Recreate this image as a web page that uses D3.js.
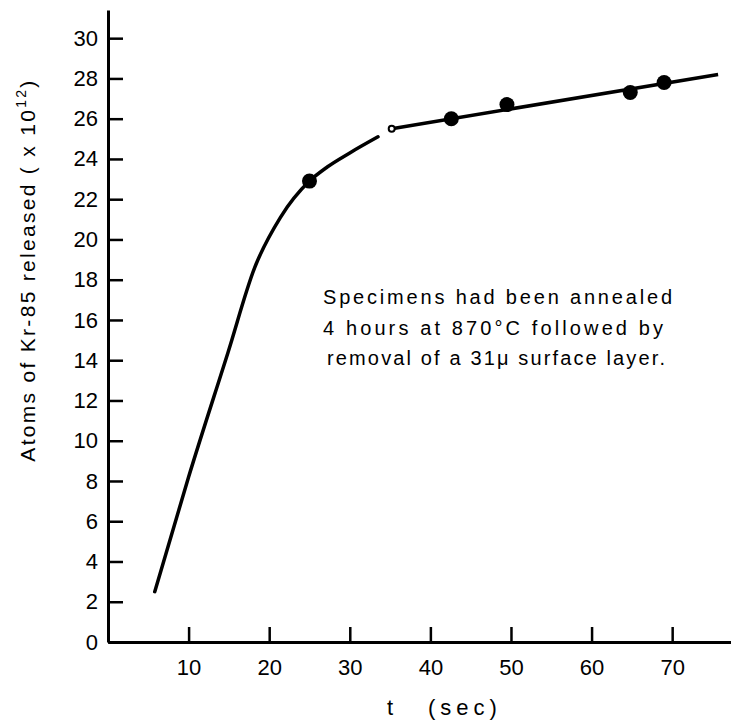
<!DOCTYPE html>
<html>
<head>
<meta charset="utf-8">
<script src="https://cdn.jsdelivr.net/npm/d3@7"></script>
<style>
  html, body { margin: 0; padding: 0; background: #fff; }
  svg { display: block; }
  text { font-family: "Liberation Sans", Arial, sans-serif; fill: #000; }
</style>
</head>
<body>
<svg id="chart" width="731" height="723"></svg>
<script>
// ---- data ----
const xTicks = [10, 20, 30, 40, 50, 60, 70];
const yTicks = [0, 2, 4, 6, 8, 10, 12, 14, 16, 18, 20, 22, 24, 26, 28, 30];
// measured points (filled dots): t (sec), atoms released (x10^12)
const pointT = [25, 42.6, 49.5, 64.8, 69.0];
const pointY = [22.9, 26.0, 26.7, 27.3, 27.8];
// early curve (hand-drawn fit)
const curveT = [5.8, 10.0, 14.9, 18.2, 21.4, 25.0, 27.2, 30.0, 33.5];
const curveY = [2.5, 8.2, 14.4, 18.6, 21.1, 22.9, 23.6, 24.3, 25.1];
// later straight line
const lineT = [35.2, 75.7];
const lineY = [25.5, 28.2];
// small open marker at the start of the straight line
const openT = [35.2];
const openY = [25.5];
const noteLines = [
  "Specimens had been annealed",
  "4 hours at 870\u00B0C followed by",
  "removal of a 31\u03BC surface layer."
];

const svg = d3.select("#chart");
const x = d3.scaleLinear().domain([0, 77.3]).range([108, 731]);
const y = d3.scaleLinear().domain([0, 31.4]).range([642, 10]);

// axes
const yAxis = d3.axisLeft(y).tickValues(yTicks).tickSizeInner(-15).tickSizeOuter(0).tickPadding(10);
const xAxis = d3.axisBottom(x).tickValues(xTicks).tickSizeInner(-15).tickSizeOuter(0).tickPadding(17);

const gy = svg.append("g").attr("transform", `translate(${x(0)},0)`).call(yAxis);
const gx = svg.append("g").attr("transform", `translate(0,${y(0)})`).call(xAxis);
[gx, gy].forEach(g => {
  g.select(".domain").attr("stroke", "#000").attr("stroke-width", 3);
  g.selectAll(".tick line").attr("stroke", "#000").attr("stroke-width", 2.5);
  g.selectAll(".tick text").attr("font-size", 22).attr("font-family", "Liberation Sans, Arial, sans-serif").attr("fill", "#000");
});

// curve
svg.append("path")
  .datum(curveT.map((t, i) => [t, curveY[i]]))
  .attr("d", d3.line().x((d) => x(d[0])).y((d) => y(d[1])).curve(d3.curveMonotoneX))
  .attr("fill", "none").attr("stroke", "#000").attr("stroke-width", 3.5).attr("stroke-linecap", "round");

svg.append("path")
  .datum(lineT.map((t, i) => [t, lineY[i]]))
  .attr("d", d3.line().x((d) => x(d[0])).y((d) => y(d[1])))
  .attr("fill", "none").attr("stroke", "#000").attr("stroke-width", 3.5);

svg.selectAll("circle.open")
  .data(openT.map((t, i) => [t, openY[i]]))
  .join("circle").attr("class", "open")
  .attr("cx", (d) => x(d[0])).attr("cy", (d) => y(d[1])).attr("r", 3)
  .attr("fill", "#fff").attr("stroke", "#000").attr("stroke-width", 2);

svg.selectAll("circle.pt")
  .data(pointT.map((t, i) => [t, pointY[i]]))
  .join("circle").attr("class", "pt")
  .attr("cx", (d) => x(d[0])).attr("cy", (d) => y(d[1])).attr("r", 7.5)
  .attr("fill", "#000");

// axis titles
const yt = svg.append("text")
  .attr("transform", "translate(35,270) rotate(-90)")
  .attr("text-anchor", "middle")
  .attr("font-size", 21)
  .attr("letter-spacing", 2.3);
yt.append("tspan").text("Atoms of Kr-85 released ( x 10");
yt.append("tspan").attr("font-size", 14).attr("dy", -9).text("12");
yt.append("tspan").attr("dy", 9).text(")");

const xt = svg.append("text").attr("y", 715).attr("font-size", 22);
xt.append("tspan").attr("x", 387).text("t");
xt.append("tspan").attr("x", 428).attr("letter-spacing", 5).text("(sec)");

// annotation
const noteX = [323, 323, 327];
const noteW = [349, 340, 338];
const noteBase = [304, 335, 365];
noteLines.forEach((s, i) => {
  svg.append("text")
    .attr("x", noteX[i]).attr("y", noteBase[i])
    .attr("font-size", 20)
    .attr("textLength", noteW[i]).attr("lengthAdjust", "spacing")
    .text(s);
});
</script>
</body>
</html>
